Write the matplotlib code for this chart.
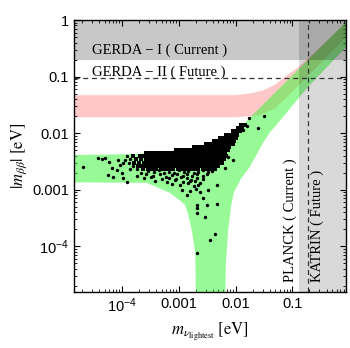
import numpy as np
import matplotlib.pyplot as plt

# axis ranges (eV)
x_range = (1.43e-5, 0.88)
y_range = (1.55e-5, 1.0)

# NH band (green), boundary, log10 units
nh_upper_lx = [-5.0, -3.74, -3.15, -2.68, -2.33, -2.05, -1.87, -1.75, -1.05, -0.055, 0.05]
nh_upper_ly = [-2.39, -2.37, -2.32, -2.25, -2.12, -1.98, -1.86, -1.73, -1.03, -0.035, 0.07]
nh_lower_lx = [0.05, -0.055, -0.73, -1.31, -1.39, -1.52, -1.75, -1.90, -2.03, -2.08, -2.13, -2.17, -2.19,
               -2.70, -2.70, -2.71, -2.77, -2.84, -2.89, -2.98, -3.15, -3.38, -3.56, -5.0]
nh_lower_ly = [-0.43, -0.48, -1.19, -1.89, -1.98, -2.18, -2.60, -2.80, -3.05, -3.30, -3.72, -4.30, -5.2,
               -5.2, -4.81, -4.12, -3.72, -3.42, -3.27, -3.19, -3.06, -2.96, -2.88, -2.87]

# IH band (pink)
ih_upper_lx = [-5.0, -2.0, -1.7, -1.5, -1.3, -1.1, -0.9, -0.5, 0.05]
ih_upper_ly = [-1.33, -1.33, -1.29, -1.24, -1.14, -0.98, -0.84, -0.47, 0.05]
ih_lower_lx = [0.05, -0.055, -0.5, -1.0, -1.31, -1.6, -2.0, -5.0]
ih_lower_ly = [-0.20, -0.30, -0.76, -1.27, -1.57, -1.69, -1.72, -1.72]

# experimental limits
gerda1 = 0.196
gerda2 = 0.095
planck = 0.133
katrin = 0.19

# scatter points (log10 m_lightest, log10 m_bb): dense core row by row
dot_rows_ly = [-1.86, -1.915, -1.97, -2.025, -2.08, -2.135, -2.19, -2.245, -2.30, -2.355,
               -2.41, -2.465, -2.52, -2.575, -2.63]
dot_rows_lx = [
    [-1.90, -1.84],
    [-1.96, -1.89],
    [-2.05, -1.98, -1.93],
    [-2.17, -2.10, -2.03, -1.97],
    [-2.27, -2.20, -2.13, -2.06, -2.00],
    [-2.38, -2.31, -2.24, -2.17, -2.10, -2.03],
    [-2.52, -2.45, -2.38, -2.31, -2.24, -2.17, -2.10, -2.05],
    [-2.74, -2.67, -2.60, -2.53, -2.46, -2.39, -2.32, -2.25, -2.18, -2.11],
    [-3.04, -2.97, -2.90, -2.83, -2.76, -2.69, -2.62, -2.55, -2.48, -2.41, -2.34, -2.27, -2.20, -2.13],
    [-3.58, -3.51, -3.44, -3.37, -3.30, -3.23, -3.16, -3.09, -3.02, -2.95, -2.88, -2.81, -2.74, -2.67,
     -2.60, -2.53, -2.46, -2.39, -2.32, -2.25, -2.18],
    [-3.80, -3.69, -3.62, -3.55, -3.48, -3.41, -3.34, -3.27, -3.20, -3.13, -3.06, -2.99, -2.92,
     -2.85, -2.78, -2.71, -2.64, -2.57, -2.50, -2.43, -2.36, -2.29, -2.22, -2.17],
    [-3.76, -3.66, -3.58, -3.51, -3.44, -3.37, -3.30, -3.23, -3.16, -3.09, -3.02, -2.95,
     -2.88, -2.81, -2.74, -2.67, -2.60, -2.53, -2.46, -2.39, -2.32, -2.25, -2.20],
    [-3.79, -3.70, -3.62, -3.55, -3.48, -3.41, -3.34, -3.27, -3.20, -3.13, -3.06, -2.99, -2.92,
     -2.85, -2.78, -2.71, -2.64, -2.57, -2.50, -2.43, -2.36, -2.29, -2.24],
    [-3.72, -3.64, -3.57, -3.50, -3.43, -3.36, -3.29, -3.22, -3.15, -3.08, -3.01, -2.94, -2.87,
     -2.80, -2.73, -2.66, -2.59, -2.52, -2.45, -2.38, -2.31],
    [-3.63, -3.55, -3.47, -3.40, -3.32, -3.25, -3.17, -3.10, -3.02, -2.95, -2.88, -2.80,
     -2.73, -2.66, -2.58, -2.51, -2.44, -2.37],
]
# sparser points below the core, in the left tail, up the arm and down the funnel
extra_lx = [-3.66, -3.55, -3.44, -3.35, -3.26, -3.18, -3.08, -3.00, -2.91, -2.83, -2.74, -2.66, -2.58, -2.49, -2.42,
            -3.73, -3.58, -3.46, -3.33, -3.22, -3.12, -3.03, -2.93, -2.85, -2.76, -2.67, -2.58, -2.50,
            -3.62, -3.48, -3.30, -3.18, -3.05, -2.96, -2.86, -2.78, -2.68, -2.58,
            -3.42, -3.21, -3.06, -2.92, -2.80, -2.71, -2.62,
            -3.12, -2.97, -2.84, -2.74, -2.66,
            -3.92, -3.95, -3.86, -3.98, -3.88, -3.81, -3.86, -3.74,
            -4.69, -4.42, -4.35, -4.30, -4.23, -4.18, -4.25, -4.16, -4.09, -4.07, -4.04, -4.00, -3.98, -3.91,
            -1.50, -1.76, -1.61, -1.80, -1.87,
            -2.13, -2.05, -2.36, -2.19, -2.33, -2.49,
            -2.95, -2.80, -2.70, -2.62, -2.86, -2.58,
            -2.68, -2.68, -2.50, -2.33, -2.68, -2.54, -2.36, -2.45, -2.68]
extra_ly = [-2.70, -2.67, -2.69, -2.66, -2.70, -2.68, -2.71, -2.66, -2.69, -2.67, -2.70, -2.68, -2.66, -2.69, -2.67,
            -2.76, -2.73, -2.75, -2.72, -2.77, -2.74, -2.72, -2.76, -2.73, -2.75, -2.72, -2.76, -2.73,
            -2.80, -2.78, -2.81, -2.79, -2.82, -2.78, -2.80, -2.83, -2.79, -2.81,
            -2.84, -2.86, -2.83, -2.87, -2.85, -2.84, -2.88,
            -2.90, -2.92, -2.89, -2.93, -2.91,
            -2.41, -2.47, -2.46, -2.52, -2.53, -2.58, -2.63, -2.64,
            -2.60, -2.44, -2.46, -2.44, -2.51, -2.62, -2.74, -2.78, -2.65, -2.48, -2.57, -2.71, -2.80, -2.87,
            -1.70, -1.73, -1.91, -1.88, -1.95,
            -2.42, -2.48, -2.60, -2.62, -2.92, -3.01,
            -3.00, -3.02, -2.98, -3.05, -3.10, -3.15,
            -3.27, -3.33, -3.27, -3.26, -3.42, -3.49, -3.79, -3.89, -4.12]

core_lx = [v for row in dot_rows_lx for v in row]
core_ly = [y for y, row in zip(dot_rows_ly, dot_rows_lx) for _ in row]

plt.rcParams['font.family'] = 'Liberation Sans'
plt.rcParams['mathtext.fontset'] = 'stix'

fig = plt.figure(figsize=(3.5, 3.48), dpi=100)
ax = fig.add_axes([0.2114, 0.1609, 0.7771, 0.7816])

# bands
ih_x = 10.0 ** np.array(ih_upper_lx + ih_lower_lx)
ih_y = 10.0 ** np.array(ih_upper_ly + ih_lower_ly)
ax.fill(ih_x, ih_y, color='#ffc8c8', lw=0, zorder=1)

nh_x = 10.0 ** np.array(nh_upper_lx + nh_lower_lx)
nh_y = 10.0 ** np.array(nh_upper_ly + nh_lower_ly)
ax.fill(nh_x, nh_y, color='#31f731', alpha=0.5, lw=0, zorder=2)

# excluded regions
ax.axhspan(gerda1, 10, color='black', alpha=0.215, lw=0, zorder=3)
ax.axvspan(planck, 10, color='black', alpha=0.15, lw=0, zorder=3)
ax.axhline(gerda2, color='#333333', lw=0.9, ls=(0, (4, 3)), zorder=4)
ax.axvline(katrin, color='#333333', lw=0.9, ls=(0, (4, 3)), zorder=4)

ax.scatter(10.0 ** np.array(core_lx), 10.0 ** np.array(core_ly), s=9.5, marker='s', c='black', lw=0, zorder=5)
ax.scatter(10.0 ** np.array(extra_lx), 10.0 ** np.array(extra_ly), s=6, c='black', lw=0, zorder=5)

serif = 'Liberation Serif'
ax.text(3.0e-5, 0.29, 'GERDA − I ( Current )', family=serif, fontsize=10.5, va='center', zorder=6)
ax.text(3.0e-5, 0.12, 'GERDA − II ( Future )', family=serif, fontsize=10.5, va='center', zorder=6)
ax.text(0.093, 2.3e-5, 'PLANCK ( Current )', family=serif, fontsize=10.5, rotation=90,
        ha='center', va='bottom', zorder=6)
ax.text(0.28, 2.3e-5, 'KATRIN ( Future )', family=serif, fontsize=10.5, rotation=90,
        ha='center', va='bottom', zorder=6)

ax.set_xscale('log')
ax.set_yscale('log')
ax.set_xlim(*x_range)
ax.set_ylim(*y_range)

ax.set_xticks([1e-4, 1e-3, 1e-2, 0.1])
ax.set_xticklabels([r'$\mathregular{10^{-4}}$', '0.001', '0.01', '0.1'])
ax.set_yticks([1e-4, 1e-3, 1e-2, 0.1, 1])
ax.set_yticklabels([r'$\mathregular{10^{-4}}$', '0.001', '0.01', '0.1', '1'])
ax.tick_params(which='both', direction='in', top=True, right=True, labelsize=10.5, width=0.8)
ax.tick_params(which='major', length=4)
ax.tick_params(which='minor', length=2, width=0.6)
for s in ax.spines.values():
    s.set_linewidth(1.0)

ax.set_xlabel(r'$m_{\nu_{\mathrm{lightest}}}\ [\mathrm{eV}]$', fontsize=12, labelpad=4)
ax.set_ylabel(r'$|m_{\beta\beta}|\ [\mathrm{eV}]$', fontsize=12, labelpad=2)

fig.savefig('out.png', dpi=100)
